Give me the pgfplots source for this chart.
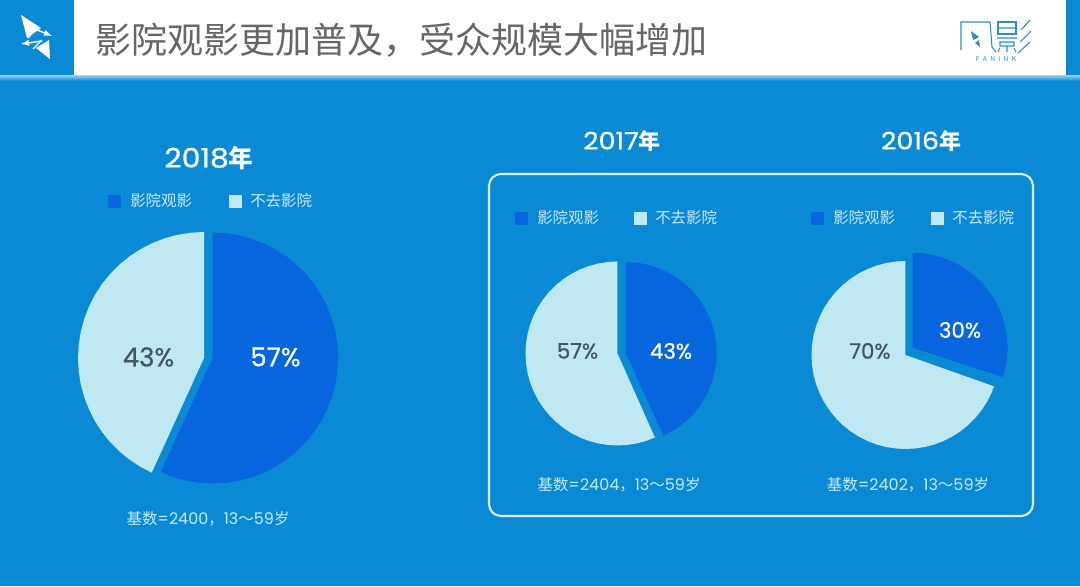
\documentclass[border=0pt]{standalone}
\usepackage{pgfplots}
\pgfplotsset{compat=1.18}
\usepackage{fontspec}
\setmainfont{Noto Sans CJK SC}
\newfontfamily\lat{Poppins}
\newfontfamily\latm{Poppins}[FakeBold=0.6]
\newfontfamily\latw{Poppins}[FakeBold=0.8,FakeStretch=1.12]
\definecolor{bg}{HTML}{0A8AD5}
\definecolor{dk}{HTML}{0765DD}
\definecolor{lt}{HTML}{BFE8F3}
\definecolor{tl}{HTML}{C9EAF8}
\definecolor{tt}{HTML}{666666}
\definecolor{tv}{HTML}{46555C}
\definecolor{lg}{HTML}{2A8FC8}
\newcommand{\fs}[1]{\fontsize{#1}{#1}\selectfont}
\begin{document}
\begin{tikzpicture}[x=0.75pt,y=-0.75pt]
\useasboundingbox (0,0) rectangle (1080,586);
\fill[bg] (0,0) rectangle (1080,586);
\fill[white] (74,0) rectangle (1066,75);
\shade[top color=white!60!bg,bottom color=bg] (0,75) rectangle (1080,81);
% left logo
\fill[white] (21,15) -- (41,28) -- (27,38) -- cycle;
\fill[white] (50,59) -- (49,40) -- (36,48) -- cycle;
\draw[white,line width=1.1pt,-latex] (30,27) -- (52,36);
\draw[white,line width=1.1pt,-latex] (42,41) -- (21,44);
\draw[white,line width=1pt] (38,27) -- (28,38) (42,40) -- (33,49);
% right logo
\draw[lg,line width=0.8pt] (961,50) -- (961,22) -- (990,22) -- (992,47) -- (996,52);
\fill[lg] (971,31) -- (979,37) -- (973,40) -- cycle;
\fill[lg] (980,47) -- (979,40) -- (975,43) -- cycle;
\draw[lg,line width=0.8pt] (998,22) rectangle (1016,34);
\draw[lg,line width=0.8pt] (998,28) -- (1016,28) (997,38) -- (1017,38) (1000,42) rectangle (1014,46) (1007,46) -- (1007,52) (998,52) -- (1000,48) (1016,52) -- (1014,48);
\draw[lg,line width=0.8pt] (1030,20) -- (1021,30) (1031,31) -- (1020,42) (1030,42) -- (1018,53);
\node[lg,anchor=center,inner sep=0pt] at (996,59) {\fs{5}F\,\,\,A\,\,\,N\,\,\,I\,\,\,N\,\,\,K};
\node[tt,anchor=west,inner sep=0pt] at (95,40) {\fs{27}影院观影更加普及，受众规模大幅增加};
\begin{axis}[at={(0,0)},anchor=origin,x=0.75pt,y=0.75pt,xmin=0,xmax=1080,ymin=-586,ymax=0,hide axis,clip=false,
  scale only axis,data cs=polar]
% 2018
\addplot[fill=dk,draw=none,xshift=159.5pt,yshift=-268.5pt] coordinates {(0,0)
(90,125.5)(84,125.5)(78,125.5)(72,125.5)(66,125.5)(60,125.5)(54,125.5)(48,125.5)(42,125.5)(36,125.5)(30,125.5)(24,125.5)(18,125.5)(12,125.5)(6,125.5)(0,125.5)
(-6,125.5)(-12,125.5)(-18,125.5)(-24,125.5)(-30,125.5)(-36,125.5)(-42,125.5)(-48,125.5)(-54,125.5)(-60,125.5)(-66,125.5)(-72,125.5)(-78,125.5)(-84,125.5)(-90,125.5)
(-96,125.5)(-102,125.5)(-108,125.5)(-114,125.5)(-114.5,125.5)} --cycle;
\addplot[fill=lt,draw=none,xshift=153pt,yshift=-268.5pt] coordinates {(0,0)
(90,126)(96,126)(102,126)(108,126)(114,126)(120,126)(126,126)(132,126)(138,126)(144,126)(150,126)(156,126)(162,126)(168,126)(174,126)(180,126)
(186,126)(192,126)(198,126)(204,126)(210,126)(216,126)(222,126)(228,126)(234,126)(240,126)(245.5,126)} --cycle;
% 2017
\addplot[fill=dk,draw=none,xshift=469.3pt,yshift=-264.75pt] coordinates {(0,0)
(90,91)(84,91)(78,91)(72,91)(66,91)(60,91)(54,91)(48,91)(42,91)(36,91)(30,91)(24,91)(18,91)(12,91)(6,91)(0,91)
(-6,91)(-12,91)(-18,91)(-24,91)(-30,91)(-36,91)(-42,91)(-48,91)(-54,91)(-60,91)(-65.5,91)} --cycle;
\addplot[fill=lt,draw=none,xshift=463.1pt,yshift=-265.1pt] coordinates {(0,0)
(90,92)(96,92)(102,92)(108,92)(114,92)(120,92)(126,92)(132,92)(138,92)(144,92)(150,92)(156,92)(162,92)(168,92)(174,92)(180,92)
(186,92)(192,92)(198,92)(204,92)(210,92)(216,92)(222,92)(228,92)(234,92)(240,92)(246,92)(252,92)(258,92)(264,92)(270,92)
(276,92)(282,92)(288,92)(294,92)} --cycle;
% 2016
\addplot[fill=dk,draw=none,xshift=684.5pt,yshift=-260.85pt] coordinates {(0,0)
(90,95)(84,95)(78,95)(72,95)(66,95)(60,95)(54,95)(48,95)(42,95)(36,95)(30,95)(24,95)(18,95)(12,95)(6,95)(0,95)
(-6,95)(-12,95)(-18,95)} --cycle;
\addplot[fill=lt,draw=none,xshift=679.1pt,yshift=-266.25pt] coordinates {(0,0)
(90,94)(96,94)(102,94)(108,94)(114,94)(120,94)(126,94)(132,94)(138,94)(144,94)(150,94)(156,94)(162,94)(168,94)(174,94)(180,94)
(186,94)(192,94)(198,94)(204,94)(210,94)(216,94)(222,94)(228,94)(234,94)(240,94)(246,94)(252,94)(258,94)(264,94)(270,94)
(276,94)(282,94)(288,94)(294,94)(300,94)(306,94)(312,94)(318,94)(324,94)(330,94)(336,94)(340.5,94)} --cycle;
\end{axis}
\draw[white!85!bg,line width=1.6pt,rounded corners=9pt] (489,174) rectangle (1033,516);
% titles
\node[white,inner sep=0pt] at (209,158) {\fs{20}{\latw 2018}{\fs{18.5}\textbf{年}}};
\node[white,inner sep=0pt] at (622,141) {\fs{18}{\latw 2017}{\fs{16.5}\textbf{年}}};
\node[white,inner sep=0pt] at (921,141) {\fs{18}{\latw 2016}{\fs{16.5}\textbf{年}}};
% legends
\newcommand{\lgd}[3]{%
 \fill[dk] (#1,#3-6.5) rectangle ++(13,13);
 \node[tl,anchor=west,inner sep=0pt] at (#1+22,#3) {\fs{11.6}影院观影};
 \fill[lt] (#2,#3-6.5) rectangle ++(13,13);
 \node[tl,anchor=west,inner sep=0pt] at (#2+21,#3) {\fs{11.6}不去影院};}
\lgd{108}{229}{201}
\lgd{515}{634}{218}
\lgd{811}{931}{218}
% values
\node[white,inner sep=0pt] at (275.5,357) {\fs{19.5}\latm 57\%};
\node[tv,inner sep=0pt] at (148.5,357) {\fs{19.5}\latm 43\%};
\node[white,inner sep=0pt] at (671,351) {\fs{16}\latm 43\%};
\node[tv,inner sep=0pt] at (577.5,351) {\fs{16}\latm 57\%};
\node[white,inner sep=0pt] at (960,330) {\fs{16}\latm 30\%};
\node[tv,inner sep=0pt] at (870,351) {\fs{16}\latm 70\%};
% bases
\newcommand{\base}[1]{\fs{11.6}基数{\fs{12}\lat =#1}，{\fs{12}\lat 13}～{\fs{12}\lat 59}岁}
\node[tl,inner sep=0pt] at (208,519) {\base{2400}};
\node[tl,inner sep=0pt] at (619,485) {\base{2404}};
\node[tl,inner sep=0pt] at (908,485) {\base{2402}};
\end{tikzpicture}
\end{document}
